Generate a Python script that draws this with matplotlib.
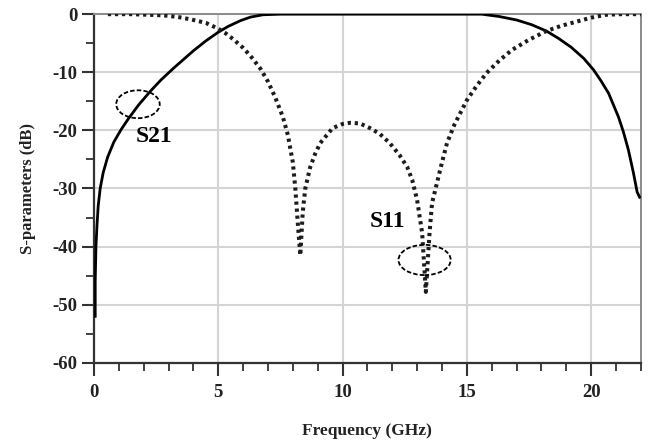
import matplotlib.pyplot as plt
from matplotlib.patches import Ellipse
from matplotlib.ticker import MultipleLocator

plt.rcParams['axes.unicode_minus'] = False

# S21 (solid)
s21_f = [0.05, 0.05, 0.08, 0.12, 0.17, 0.25, 0.37, 0.55, 0.8, 1.1, 1.4, 1.8, 2.26,
         2.7, 3.2, 3.6, 4.0, 4.5, 5.0, 5.4, 5.9, 6.3, 6.8, 7.5, 10.0, 13.0, 15.6,
         16.3, 17.0, 17.6, 18.2, 18.7, 19.2, 19.7, 20.1, 20.4, 20.7, 21.1, 21.3,
         21.5, 21.7, 21.85, 21.95]
s21_db = [-52.0, -46.0, -40.0, -36.5, -33.0, -30.0, -27.3, -24.6, -22.0, -19.8, -17.9,
          -15.6, -13.3, -11.3, -9.3, -7.8, -6.3, -4.6, -3.1, -2.1, -1.1, -0.5, -0.1,
          0.0, 0.0, 0.0, 0.0, -0.4, -1.0, -1.8, -2.9, -4.2, -5.7, -7.6, -9.6, -11.5,
          -13.6, -17.7, -20.3, -23.4, -27.3, -30.6, -31.5]

# S11 (dotted)
s11_f = [0.56, 1.5, 2.8, 3.4, 3.9, 4.5, 5.0, 5.3, 5.6, 6.0, 6.3, 6.7, 7.0, 7.3, 7.6,
         7.8, 8.0, 8.1, 8.2, 8.3, 8.4, 8.5, 8.7, 8.9, 9.1, 9.6, 10.0, 10.3, 10.7,
         11.1, 11.5, 11.9, 12.3, 12.6, 12.8, 13.0, 13.2, 13.35, 13.5, 13.6, 13.8,
         14.0, 14.2, 14.5, 15.0, 15.4, 15.8, 16.3, 16.8, 17.5, 18.2, 18.8, 19.4,
         20.0, 20.6, 21.2, 22.0]
s11_db = [0.0, 0.0, -0.2, -0.5, -0.9, -1.5, -2.5, -3.3, -4.3, -5.8, -7.2, -9.4, -11.6,
          -14.4, -17.7, -20.8, -25.5, -30.0, -36.0, -41.5, -34.0, -30.0, -26.3,
          -24.0, -22.2, -19.6, -18.9, -18.7, -18.8, -19.6, -20.6, -22.2, -24.3,
          -26.3, -28.5, -32.0, -37.6, -47.8, -37.6, -32.5, -29.0, -25.5, -22.2,
          -19.0, -14.8, -12.3, -10.1, -8.0, -6.2, -4.4, -2.9, -2.0, -1.3, -0.6,
          -0.1, 0.0, 0.0]

xticks = [0, 5, 10, 15, 20]
yticks = [0, -10, -20, -30, -40, -50, -60]

serif = 'Liberation Serif'

fig = plt.figure(figsize=(6.48, 4.43), dpi=100)
ax = fig.add_axes([0.145, 0.181, 0.844, 0.787])

ax.plot(s21_f, s21_db, color='black', linewidth=2.0, zorder=3)
ax.plot(s11_f, s11_db, color='#1c1c1c', linewidth=2.9,
        linestyle=(0, (0.8, 0.95)), zorder=3)

# annotation ellipses
ax.add_patch(Ellipse((1.77, -15.5), 1.75, 4.8, fill=False, edgecolor='black',
                     linewidth=1.3, linestyle=(0, (2.5, 1.2)), zorder=4))
ax.add_patch(Ellipse((13.3, -42.3), 2.1, 5.2, fill=False, edgecolor='black',
                     linewidth=1.3, linestyle=(0, (2.5, 1.2)), zorder=4))
ax.text(2.4, -21.0, 'S21', fontsize=17, fontweight='bold', family=serif,
        ha='center', va='center')
ax.text(11.8, -35.7, 'S11', fontsize=17, fontweight='bold', family=serif,
        ha='center', va='center')

ax.set_xlim(0, 22)
ax.set_ylim(-60, 0)
ax.set_xticks(xticks)
ax.set_yticks(yticks)
ax.xaxis.set_minor_locator(MultipleLocator(1))
ax.yaxis.set_minor_locator(MultipleLocator(5))
ax.tick_params(which='major', direction='out', length=9, width=1.5,
               color='#333333', labelsize=13.5, pad=3)
ax.tick_params(which='minor', direction='out', length=5.5, width=1.3,
               color='#333333')
ax.tick_params(axis='x', pad=6)
for lab in ax.get_xticklabels() + ax.get_yticklabels():
    lab.set_family(serif)
    lab.set_fontweight('bold')
    lab.set_color('#222222')

ax.grid(True, which='major', color='#d4d4d4', linewidth=1.5)
ax.set_axisbelow(True)
for side in ['left', 'bottom']:
    ax.spines[side].set_color('#333333')
    ax.spines[side].set_linewidth(1.6)
for side in ['top', 'right']:
    ax.spines[side].set_color('#8a8a8a')
    ax.spines[side].set_linewidth(1.4)

ax.set_xlabel('Frequency (GHz)', family=serif, fontweight='bold', fontsize=12.5,
              labelpad=16, color='#222222')
ax.set_ylabel('S-parameters (dB)', family=serif, fontweight='bold', fontsize=12,
              labelpad=12, color='#222222')

fig.savefig('out.png', dpi=100)
